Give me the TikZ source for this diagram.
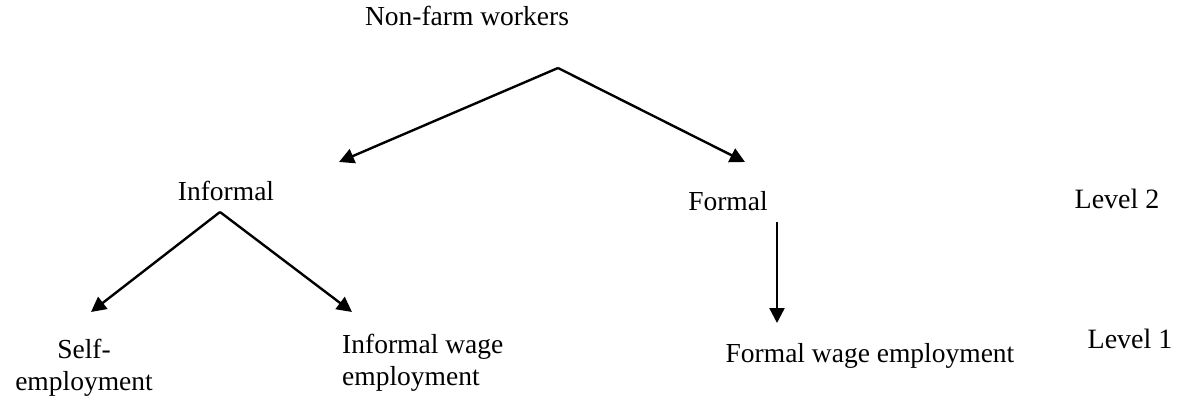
\documentclass[tikz,border=0pt]{standalone}
\usepackage{fontspec}
\setmainfont{Liberation Serif}
\usetikzlibrary{arrows.meta}
\begin{document}
\begin{tikzpicture}[x=1pt,y=-1pt,
  lbl/.style={font=\fontsize{27.5}{31.5}\selectfont, inner sep=0pt, anchor=base},
  lvl/.style={font=\fontsize{28}{32}\selectfont, inner sep=0pt, anchor=base},
  arr/.style={line width=2.4pt, line join=round, -{Triangle[length=15pt,width=15pt]}}]
\useasboundingbox (0,0) rectangle (1182,404);
% texts
\node[lbl] (nonfarm) at (467,26) {Non-farm workers};
\node[lbl] (informal) at (226,200) {Informal};
\node[lbl] (formal) at (728,210) {Formal};
\node[lvl] (level2) at (1117,208) {Level 2};
\node[lbl, align=center] (self) at (84,390) {Self-\\employment};
\node[lbl, align=left, anchor=base west] (iwage) at (342,385) {Informal wage\\employment};
\node[lbl] (fwage) at (870,362) {Formal wage employment};
\node[lvl] (level1) at (1130,348) {Level 1};
% connector end points
\coordinate (topapex) at (558,68);
\coordinate (toinformal) at (339,162);
\coordinate (toformal) at (745,162);
\coordinate (infapex) at (220,212);
\coordinate (toself) at (91,312);
\coordinate (toiwage) at (352,312);
\coordinate (formstart) at (777,222);
\coordinate (tofwage) at (777,323);
% connectors
\draw[arr] (topapex) -- (toinformal);
\draw[arr] (topapex) -- (toformal);
\draw[arr] (infapex) -- (toself);
\draw[arr] (infapex) -- (toiwage);
\draw[arr] (formstart) -- (tofwage);
\end{tikzpicture}
\end{document}
